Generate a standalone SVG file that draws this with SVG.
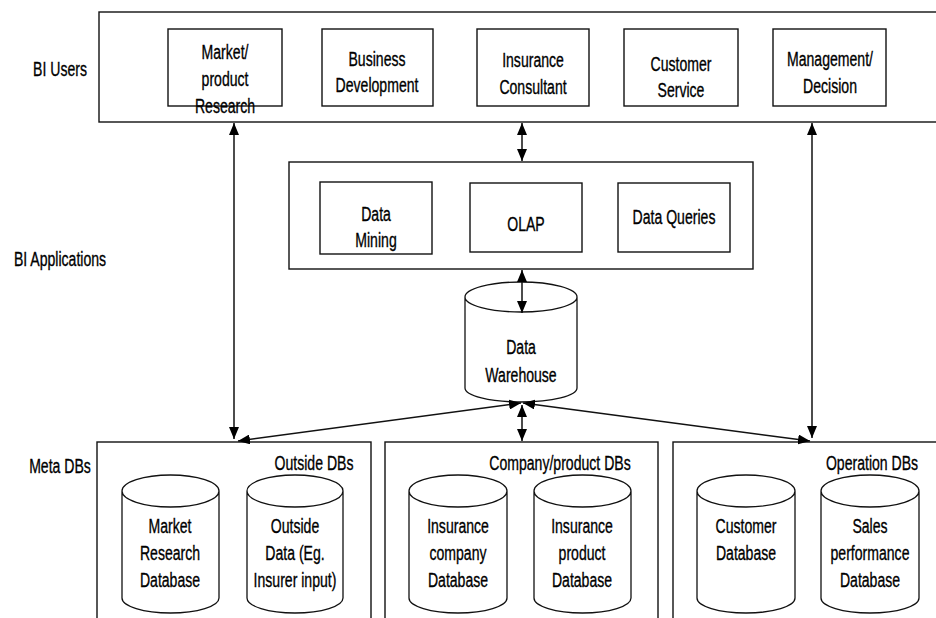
<svg xmlns="http://www.w3.org/2000/svg" width="936" height="618" viewBox="0 0 936 618">
<style>
.b{fill:#fff;stroke:#111;stroke-width:1.4}
.c{fill:#fff;stroke:#111;stroke-width:1.3}
.t{font-family:"Liberation Sans",Arial,sans-serif;font-size:21px;fill:#000;stroke:#000;stroke-width:0.35;text-anchor:middle}
.l{stroke:#111;stroke-width:1.5;fill:none;marker-start:url(#ah);marker-end:url(#ah)}
</style>
<defs>
<marker id="ah" viewBox="0 0 12 10" refX="12" refY="5" markerWidth="12" markerHeight="10" markerUnits="userSpaceOnUse" orient="auto-start-reverse">
<path d="M0,0 L12,5 L0,10 Z" fill="#000"/>
</marker>
</defs>
<rect width="936" height="618" fill="#fff"/>

<g id="labels">
<text class="t" transform="matrix(.67 0 0 1 60 76)">BI Users</text>
<text class="t" transform="matrix(.67 0 0 1 60 266)">BI Applications</text>
<text class="t" transform="matrix(.67 0 0 1 60 473)">Meta DBs</text>
</g>

<g id="bi-users">
<rect class="b" x="99" y="12" width="850" height="110"/>
</g>
<g id="market-product-research">
<rect class="b" x="168" y="29" width="114" height="77"/>
<text class="t" transform="matrix(.67 0 0 1 225 0)"><tspan x="0" y="59">Market/</tspan><tspan x="0" y="86">product</tspan><tspan x="0" y="113">Research</tspan></text>
</g>
<g id="business-development">
<rect class="b" x="322" y="29" width="111" height="77"/>
<text class="t" transform="matrix(.67 0 0 1 377 0)"><tspan x="0" y="66">Business</tspan><tspan x="0" y="92">Development</tspan></text>
</g>
<g id="insurance-consultant">
<rect class="b" x="477" y="29" width="112" height="77"/>
<text class="t" transform="matrix(.67 0 0 1 533 0)"><tspan x="0" y="67">Insurance</tspan><tspan x="0" y="94">Consultant</tspan></text>
</g>
<g id="customer-service">
<rect class="b" x="624" y="29" width="114" height="77"/>
<text class="t" transform="matrix(.67 0 0 1 681 0)"><tspan x="0" y="71">Customer</tspan><tspan x="0" y="97">Service</tspan></text>
</g>
<g id="management-decision">
<rect class="b" x="773" y="29" width="113" height="77"/>
<text class="t" transform="matrix(.67 0 0 1 830 0)"><tspan x="0" y="66">Management/</tspan><tspan x="0" y="93">Decision</tspan></text>
</g>

<g id="bi-applications">
<rect class="b" x="289" y="162" width="464" height="107"/>
</g>
<g id="data-mining">
<rect class="b" x="320" y="182" width="112" height="72"/>
<text class="t" transform="matrix(.67 0 0 1 376 0)"><tspan x="0" y="221">Data</tspan><tspan x="0" y="247">Mining</tspan></text>
</g>
<g id="olap">
<rect class="b" x="470" y="183" width="112" height="69"/>
<text class="t" transform="matrix(.67 0 0 1 526 231)">OLAP</text>
</g>
<g id="data-queries">
<rect class="b" x="618" y="183" width="112" height="69"/>
<text class="t" transform="matrix(.67 0 0 1 674 224)">Data Queries</text>
</g>

<g id="data-warehouse">
<path class="c" d="M465,297 L465,388 A56,14 0 0 0 577,388 L577,297 A56,15 0 0 0 465,297 A56,15 0 0 0 577,297"/>
<text class="t" transform="matrix(.67 0 0 1 521 0)"><tspan x="0" y="354">Data</tspan><tspan x="0" y="382">Warehouse</tspan></text>
</g>

<g id="outside-dbs">
<rect class="b" x="97" y="442" width="274" height="200"/>
<text class="t" transform="matrix(.67 0 0 1 314 470)">Outside DBs</text>
</g>
<g id="market-research-database">
<path class="c" d="M122,491 L122,598 A48.5,15 0 0 0 219,598 L219,491 A48.5,16 0 0 0 122,491 A48.5,16 0 0 0 219,491"/>
<text class="t" transform="matrix(.67 0 0 1 170 0)"><tspan x="0" y="533">Market</tspan><tspan x="0" y="560">Research</tspan><tspan x="0" y="587">Database</tspan></text>
</g>
<g id="outside-data">
<path class="c" d="M247,491 L247,598 A48,15 0 0 0 343,598 L343,491 A48,16 0 0 0 247,491 A48,16 0 0 0 343,491"/>
<text class="t" transform="matrix(.67 0 0 1 295 0)"><tspan x="0" y="533">Outside</tspan><tspan x="0" y="560">Data (Eg.</tspan><tspan x="0" y="587">Insurer input)</tspan></text>
</g>

<g id="company-product-dbs">
<rect class="b" x="385" y="442" width="273" height="200"/>
<text class="t" transform="matrix(.67 0 0 1 560 470)">Company/product DBs</text>
</g>
<g id="insurance-company-database">
<path class="c" d="M409,491 L409,598 A49,15 0 0 0 507,598 L507,491 A49,16 0 0 0 409,491 A49,16 0 0 0 507,491"/>
<text class="t" transform="matrix(.67 0 0 1 458 0)"><tspan x="0" y="533">Insurance</tspan><tspan x="0" y="560">company</tspan><tspan x="0" y="587">Database</tspan></text>
</g>
<g id="insurance-product-database">
<path class="c" d="M534,491 L534,598 A48.5,15 0 0 0 631,598 L631,491 A48.5,16 0 0 0 534,491 A48.5,16 0 0 0 631,491"/>
<text class="t" transform="matrix(.67 0 0 1 582 0)"><tspan x="0" y="533">Insurance</tspan><tspan x="0" y="560">product</tspan><tspan x="0" y="587">Database</tspan></text>
</g>

<g id="operation-dbs">
<rect class="b" x="673" y="442" width="280" height="200"/>
<text class="t" transform="matrix(.67 0 0 1 872 470)">Operation DBs</text>
</g>
<g id="customer-database">
<path class="c" d="M697,491 L697,598 A49,15 0 0 0 795,598 L795,491 A49,16 0 0 0 697,491 A49,16 0 0 0 795,491"/>
<text class="t" transform="matrix(.67 0 0 1 746 0)"><tspan x="0" y="533">Customer</tspan><tspan x="0" y="560">Database</tspan></text>
</g>
<g id="sales-performance-database">
<path class="c" d="M821,491 L821,598 A49,15 0 0 0 919,598 L919,491 A49,16 0 0 0 821,491 A49,16 0 0 0 919,491"/>
<text class="t" transform="matrix(.67 0 0 1 870 0)"><tspan x="0" y="533">Sales</tspan><tspan x="0" y="560">performance</tspan><tspan x="0" y="587">Database</tspan></text>
</g>

<g id="connectors">
<line class="l" x1="522" y1="123" x2="522" y2="161"/>
<line class="l" x1="522" y1="270" x2="522" y2="313"/>
<line class="l" x1="234" y1="123" x2="234" y2="439"/>
<line class="l" x1="812" y1="123" x2="812" y2="438"/>
<line class="l" x1="521" y1="403" x2="238" y2="441"/>
<line class="l" x1="523" y1="403" x2="810" y2="441"/>
<line class="l" x1="522" y1="405" x2="522" y2="441"/>
</g>
</svg>
